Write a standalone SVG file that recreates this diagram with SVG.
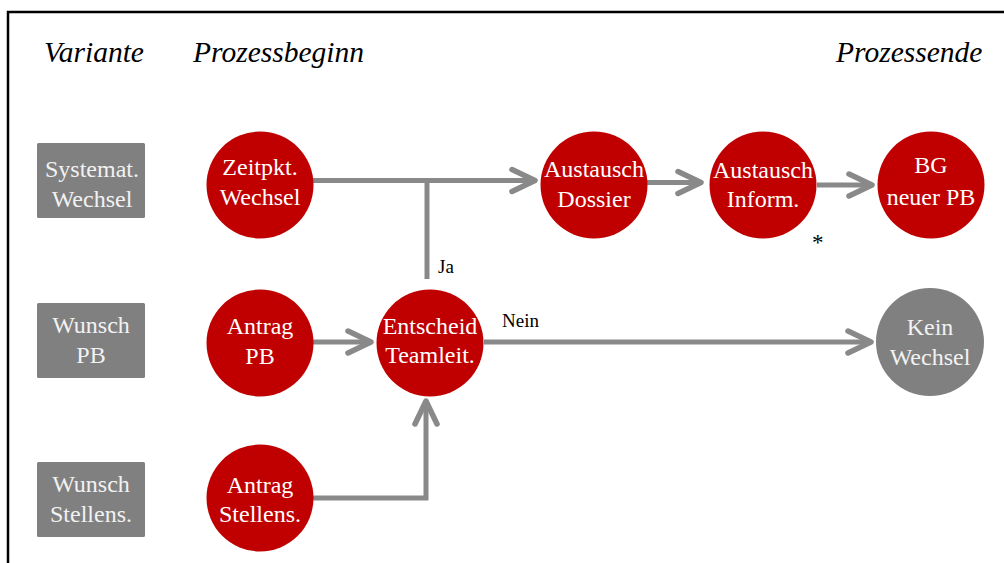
<svg xmlns="http://www.w3.org/2000/svg" width="1004" height="563" viewBox="0 0 1004 563">
<style>
.hdr{font-family:"Liberation Serif","Times New Roman",serif;font-style:italic;font-size:29.5px;fill:#000}
.nt{font-family:"Liberation Serif","Times New Roman",serif;font-size:24px;fill:#fff;text-anchor:middle}
.gt{fill:#f2f2f2}
.lbl{font-family:"Liberation Serif","Times New Roman",serif;font-size:19px;fill:#000}
.red{fill:#c00000}
.gray{fill:#808080}
.conn{fill:none;stroke:#898989;stroke-width:5;stroke-linejoin:miter}
</style>
<defs>
<marker id="arr" markerUnits="userSpaceOnUse" markerWidth="34" markerHeight="34" refX="28" refY="17" orient="auto" viewBox="0 0 34 34">
<path d="M5,6 L28,17 L5,28" fill="none" stroke="#898989" stroke-width="5.5" stroke-linecap="round" stroke-linejoin="round"/>
</marker>
</defs>
<rect x="0" y="0" width="1004" height="563" fill="#fff"/>
<path d="M8,563 L8,12 L1004,12" fill="none" stroke="#000" stroke-width="2.5"/>
<g id="headers">
<text class="hdr" x="44" y="62">Variante</text>
<text class="hdr" x="193" y="62">Prozessbeginn</text>
<text class="hdr" x="836" y="62">Prozessende</text>
</g>
<g id="connectors">
<path class="conn" d="M313,180.5 L535,180.5" marker-end="url(#arr)"/>
<path class="conn" d="M427,279 L427,180.5"/>
<path class="conn" d="M647,182.5 L701,182.5" marker-end="url(#arr)"/>
<path class="conn" d="M817,185 L872,185" marker-end="url(#arr)"/>
<path class="conn" d="M313,342 L371,342" marker-end="url(#arr)"/>
<path class="conn" d="M484,342 L871,342" marker-end="url(#arr)"/>
<path class="conn" d="M313,498 L426,498 L426,401" marker-end="url(#arr)"/>
<text class="lbl" x="438" y="273">Ja</text>
<text class="lbl" x="502" y="327">Nein</text>
<text class="lbl" x="812" y="250" style="font-size:23px">*</text>
</g>
<g id="v1"><rect class="gray" x="37" y="143" width="108" height="75" rx="1.5"/><text class="nt gt" x="92" y="177">Systemat.</text><text class="nt gt" x="92" y="207">Wechsel</text></g>
<g id="v2"><rect class="gray" x="37" y="303" width="108" height="75" rx="1.5"/><text class="nt gt" x="91" y="333">Wunsch</text><text class="nt gt" x="91" y="363">PB</text></g>
<g id="v3"><rect class="gray" x="37" y="462" width="108" height="75" rx="1.5"/><text class="nt gt" x="91" y="492">Wunsch</text><text class="nt gt" x="91" y="522">Stellens.</text></g>
<g id="zeitpkt"><circle class="red" cx="260" cy="185" r="53.5"/><text class="nt" x="260" y="175">Zeitpkt.</text><text class="nt" x="260" y="205">Wechsel</text></g>
<g id="antragpb"><circle class="red" cx="260" cy="343" r="53.5"/><text class="nt" x="260" y="334">Antrag</text><text class="nt" x="260" y="364">PB</text></g>
<g id="antragst"><circle class="red" cx="260" cy="498" r="53.5"/><text class="nt" x="260" y="493">Antrag</text><text class="nt" x="260" y="522">Stellens.</text></g>
<g id="entscheid"><circle class="red" cx="430" cy="343" r="53.5"/><text class="nt" x="430" y="334">Entscheid</text><text class="nt" x="430" y="363">Teamleit.</text></g>
<g id="dossier"><circle class="red" cx="594" cy="185" r="53.5"/><text class="nt" x="594" y="177">Austausch</text><text class="nt" x="594" y="207">Dossier</text></g>
<g id="inform"><circle class="red" cx="763" cy="185" r="53.5"/><text class="nt" x="763" y="178">Austausch</text><text class="nt" x="763" y="207">Inform.</text></g>
<g id="bg"><circle class="red" cx="931" cy="185" r="53.5"/><text class="nt" x="931" y="173">BG</text><text class="nt" x="931" y="205">neuer PB</text></g>
<g id="kein"><circle class="gray" cx="930" cy="342" r="54"/><text class="nt gt" x="930" y="335">Kein</text><text class="nt gt" x="930" y="365">Wechsel</text></g>
</svg>
